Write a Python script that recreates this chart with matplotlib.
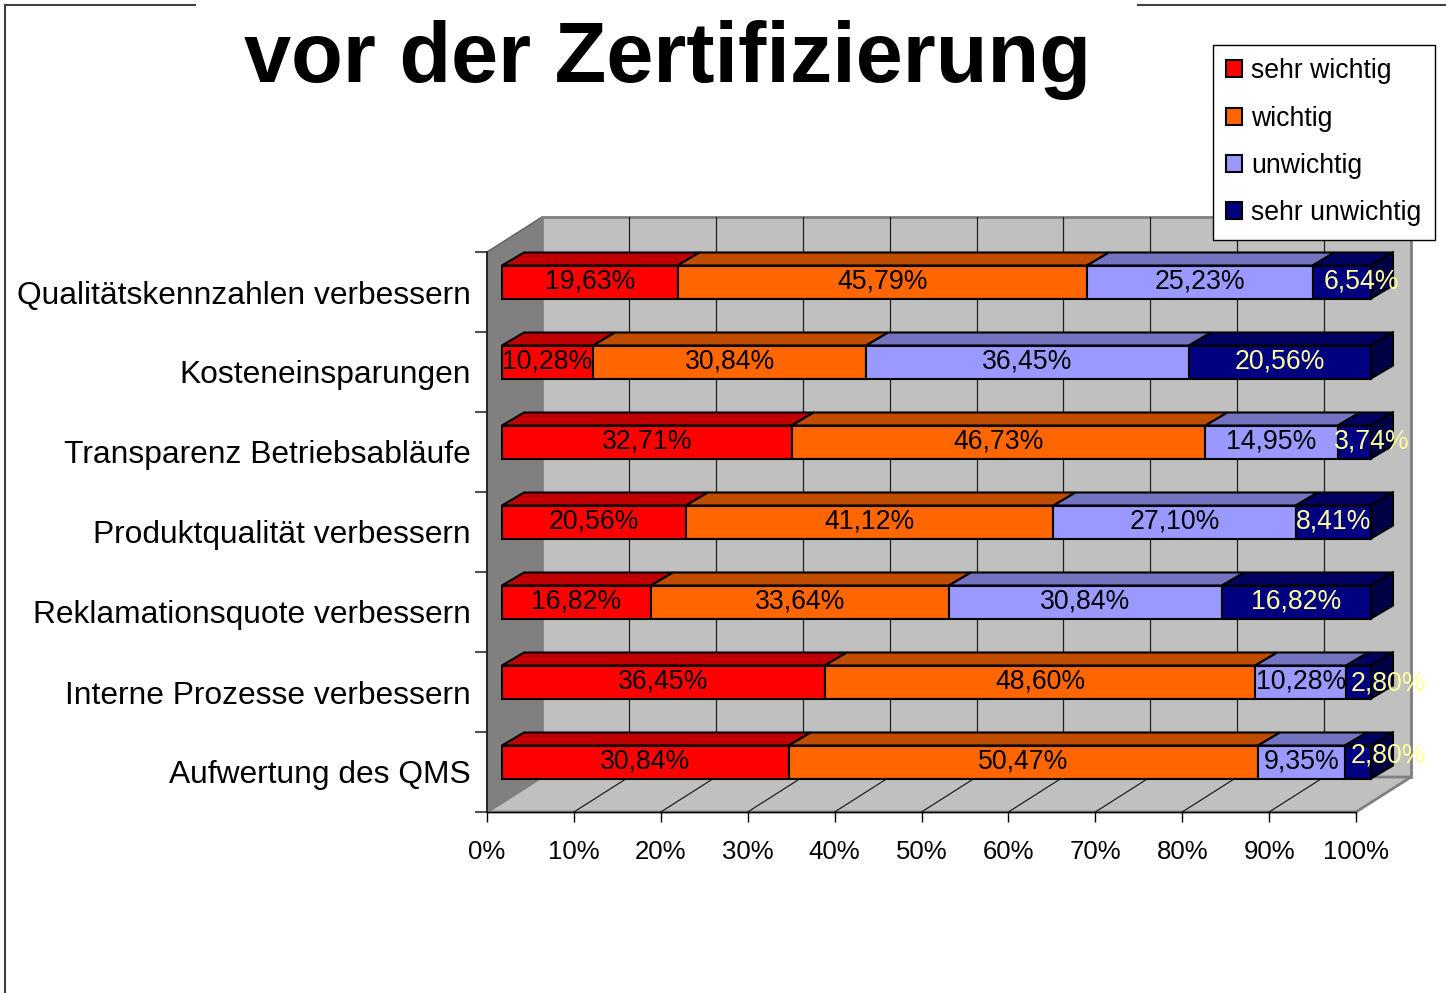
import matplotlib
matplotlib.use('Agg')
import matplotlib.pyplot as plt
import numpy as np
from matplotlib.patches import Polygon
from matplotlib.lines import Line2D

plt.rcParams['font.family'] = ['Liberation Sans', 'DejaVu Sans']

# data
categories = ['Qualitätskennzahlen verbessern', 'Kosteneinsparungen',
              'Transparenz Betriebsabläufe', 'Produktqualität verbessern',
              'Reklamationsquote verbessern', 'Interne Prozesse verbessern',
              'Aufwertung des QMS']
series_names = ['sehr wichtig', 'wichtig', 'unwichtig', 'sehr unwichtig']
sehr_wichtig = [19.63, 10.28, 32.71, 20.56, 16.82, 36.45, 30.84]
wichtig = [45.79, 30.84, 46.73, 41.12, 33.64, 48.60, 50.47]
unwichtig = [25.23, 36.45, 14.95, 27.10, 30.84, 10.28, 9.35]
sehr_unwichtig = [6.54, 20.56, 3.74, 8.41, 16.82, 2.80, 2.80]
x_ticks = [0, 10, 20, 30, 40, 50, 60, 70, 80, 90, 100]

# styles
front_colors = ['#FF0000', '#FF6600', '#9999FF', '#000080']
top_colors = ['#C00000', '#C04C00', '#7373C0', '#000060']
side_color = '#000045'
label_colors = ['black', 'black', 'black', '#FFFF99']
# pixel nudges for labels that don't fit their segment
label_nudge = {(0, 3): (20, 0), (2, 3): (17, 0), (5, 3): (30, 2), (6, 3): (30, -6)}

W, H = 1446, 993
fig = plt.figure(figsize=(W / 100, H / 100), dpi=100)
ax = fig.add_axes([487 / W, 1 - 812 / H, 869 / W, 560 / H])
n = len(categories)
ax.set_xlim(0, 100)
ax.set_ylim(n - 0.5, -0.5)
ax.patch.set_visible(False)

sx = 100 / 869.0
sy = n / 560.0


def off(px, py):
    return px * sx, py * sy


# walls and floor
fx, fy = off(55, -35)
x0, x1 = 0, 100
ytop, ybot = -0.5, n - 0.5
ax.add_patch(Polygon([(x0, ytop), (x0 + fx, ytop + fy), (x0 + fx, ybot + fy), (x0, ybot)],
                     closed=True, fc='#808080', ec='#606060', lw=1, clip_on=False, zorder=0))
ax.add_patch(Polygon([(x0 + fx, ytop + fy), (x1 + fx, ytop + fy), (x1 + fx, ybot + fy), (x0 + fx, ybot + fy)],
                     closed=True, fc='#C0C0C0', ec='#808080', lw=2, clip_on=False, zorder=0))
ax.add_patch(Polygon([(x0, ybot), (x1, ybot), (x1 + fx, ybot + fy), (x0 + fx, ybot + fy)],
                     closed=True, fc='#C0C0C0', ec='#808080', lw=2, clip_on=False, zorder=0))
for t in x_ticks[1:-1]:
    ax.plot([t + fx, t + fx], [ytop + fy, ybot + fy], color='#202020', lw=0.9, clip_on=False, zorder=1)
    ax.plot([t, t + fx], [ybot, ybot + fy], color='#202020', lw=0.9, clip_on=False, zorder=1)

# bars (100% stacked, so each row is normalised)
data = np.array([sehr_wichtig, wichtig, unwichtig, sehr_unwichtig])
totals = data.sum(axis=0)
pct = data / totals * 100
lefts = np.vstack([np.zeros(n), np.cumsum(pct, axis=0)[:-1]])
bfx, bfy = off(15, -10)
bdx, bdy = off(22, -13)
h = 33 * sy
ys = np.arange(n) + bfy

handles = []
for j in range(len(series_names)):
    b = ax.barh(ys, pct[j], left=lefts[j] + bfx, height=h, color=front_colors[j],
                edgecolor='black', lw=1.5, clip_on=False, zorder=4, label=series_names[j])
    handles.append(b)
    for i in range(n):
        l = lefts[j][i] + bfx
        r = l + pct[j][i]
        yt = ys[i] - h / 2
        yb = ys[i] + h / 2
        ax.add_patch(Polygon([(l, yt), (r, yt), (r + bdx, yt + bdy), (l + bdx, yt + bdy)],
                             closed=True, fc=top_colors[j], ec='black', lw=1.5,
                             clip_on=False, zorder=3))
        if j == len(series_names) - 1:
            ax.add_patch(Polygon([(r, yt), (r + bdx, yt + bdy), (r + bdx, yb + bdy), (r, yb)],
                                 closed=True, fc=side_color, ec='black', lw=1.5,
                                 clip_on=False, zorder=3))
        nx, ny = off(*label_nudge.get((i, j), (0, 0)))
        txt = '{:.2f}%'.format(data[j][i]).replace('.', ',')
        ax.text(l + pct[j][i] / 2 + nx, ys[i] + ny, txt, ha='center', va='center',
                fontsize=19.2, color=label_colors[j], zorder=6, clip_on=False)

# axes
ax.set_xticks(x_ticks, ['{}%'.format(t) for t in x_ticks])
ax.tick_params(axis='x', length=7.5, width=1, color='black', labelsize=18.5, pad=12.5)
ax.set_yticks(range(n), categories)
ax.tick_params(axis='y', which='major', length=0, pad=11.5, labelsize=22.9)
ax.set_yticks(np.arange(-0.5, n, 1), minor=True)
ax.tick_params(axis='y', which='minor', length=8.6, width=1.2, color='#303030')
for s in ['top', 'right']:
    ax.spines[s].set_visible(False)
ax.spines['left'].set_color('#202020')
ax.spines['left'].set_linewidth(1.3)
ax.spines['bottom'].set_color('black')
ax.spines['bottom'].set_linewidth(1)

fig.legend(handles, series_names, loc='upper right', bbox_to_anchor=(1435 / W, 1 - 45 / H),
           fontsize=19.2, frameon=True, fancybox=False, edgecolor='black', framealpha=1,
           handlelength=0.6, handleheight=0.6, handletextpad=0.35, labelspacing=0.8,
           borderpad=0.5, borderaxespad=0)

# frame around slide
fig.add_artist(Line2D([5 / W, 195 / W], [1 - 5 / H, 1 - 5 / H], color='#404040', lw=1.5))
fig.add_artist(Line2D([1138 / W, 1], [1 - 5 / H, 1 - 5 / H], color='#404040', lw=1.5))
fig.add_artist(Line2D([5 / W, 5 / W], [1 - 5 / H, 0], color='#404040', lw=1.5))

fig.text(667 / W, 1 - 82 / H, 'vor der Zertifizierung', fontsize=61, fontweight='bold',
         ha='center', va='baseline')

fig.savefig('out.png', dpi=100)
